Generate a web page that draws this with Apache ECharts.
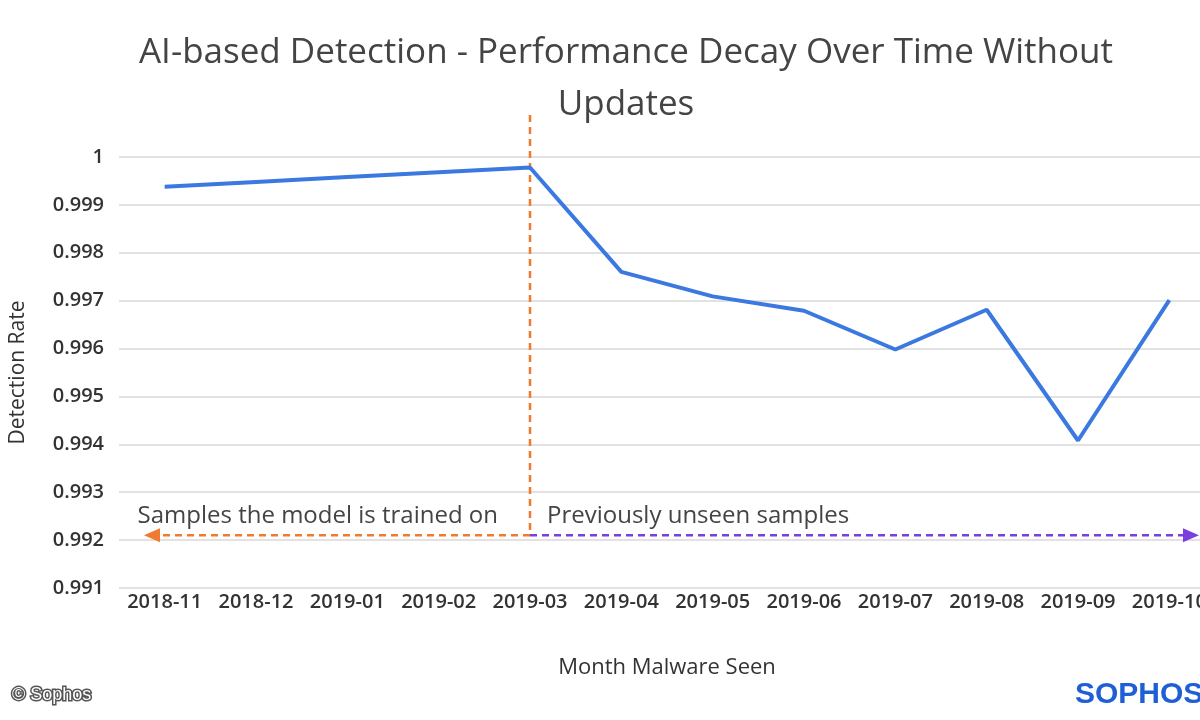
<!DOCTYPE html>
<html><head><meta charset="utf-8">
<script src="https://cdn.jsdelivr.net/npm/echarts@6/dist/echarts.min.js"></script>
<style>html,body{margin:0;padding:0;background:#fff;overflow:hidden;width:1200px;height:720px;}#c{width:1220px;height:720px;}</style>
</head><body><div id="c"></div>
<script>
const months = ['2018-11','2018-12','2019-01','2019-02','2019-03','2019-04','2019-05','2019-06','2019-07','2019-08','2019-09','2019-10'];
const detectionRate = [0.99938,0.99948,0.99958,0.99968,0.99978,0.9976,0.99709,0.99679,0.99598,0.99681,0.99408,0.99701];
const yTicks = [0.991,0.992,0.993,0.994,0.995,0.996,0.997,0.998,0.999,1];
const splitMonth = '2019-03';
const arrowLevel = 0.9921;
const leftLabel = 'Samples the model is trained on';
const rightLabel = 'Previously unseen samples';
const font = 'Open Sans, Lato, sans-serif';
const chart = echarts.init(document.getElementById('c'));
chart.setOption({
  animation:false,
  title:{text:'AI-based Detection - Performance Decay Over Time Without\nUpdates',left:621,top:22,textAlign:'center',
    textStyle:{fontFamily:font,fontSize:35,fontWeight:'normal',color:'#444',lineHeight:52}},
  grid:{left:112,right:5,top:157,bottom:132},
  xAxis:{type:'category',data:months,boundaryGap:true,name:'Month Malware Seen',nameLocation:'middle',nameGap:69,
    nameTextStyle:{fontFamily:font,fontSize:22,color:'#333'},
    axisLine:{show:false},axisTick:{show:false},
    axisLabel:{fontFamily:font,fontSize:20,fontWeight:600,color:'#333',margin:4,interval:0}},
  yAxis:{type:'value',min:0.991,max:1,interval:0.001,name:'Detection Rate',nameLocation:'middle',nameGap:90,
    nameTextStyle:{fontFamily:font,fontSize:21,color:'#333'},
    axisLabel:{fontFamily:font,fontSize:20,fontWeight:600,color:'#333',margin:15,formatter:v=>yTicks.find(t=>Math.abs(t-v)<1e-7)!==undefined?String(+v.toFixed(3)):''},
    splitLine:{lineStyle:{color:'#d9d9d9',width:1.5}}},
  series:[{type:'line',data:detectionRate,symbol:'none',lineStyle:{color:'#3b78e0',width:4}}]
});
const pTop = chart.convertToPixel({xAxisIndex:0,yAxisIndex:0},[splitMonth,1]);
const pArr = chart.convertToPixel({xAxisIndex:0,yAxisIndex:0},[splitMonth,arrowLevel]);
const x0 = pTop[0], ya = pArr[1];
chart.setOption({graphic:[
  {type:'line',shape:{x1:x0,y1:115,x2:x0,y2:ya},style:{stroke:'#f07a2e',lineWidth:2.5,lineDash:[7,5]}},
  {type:'line',shape:{x1:x0,y1:ya,x2:158,y2:ya},style:{stroke:'#f07a2e',lineWidth:2.5,lineDash:[7,5]}},
  {type:'polygon',shape:{points:[[144,ya],[160,ya-7],[160,ya+7]]},style:{fill:'#f07a2e'}},
  {type:'line',shape:{x1:x0,y1:ya,x2:1186,y2:ya},style:{stroke:'#7b3fe0',lineWidth:2.5,lineDash:[7,5]}},
  {type:'polygon',shape:{points:[[1199,ya],[1183,ya-7],[1183,ya+7]]},style:{fill:'#7b3fe0'}},
  {type:'text',x:x0-32,y:ya-7,style:{text:leftLabel,align:'right',verticalAlign:'bottom',font:'24px '+font,fill:'#444'}},
  {type:'text',x:x0+17,y:ya-7,style:{text:rightLabel,align:'left',verticalAlign:'bottom',font:'24px '+font,fill:'#444'}},
  {type:'text',x:12,y:686,style:{text:'© Sophos',font:'18px Liberation Sans, Arial',fill:'#fff',stroke:'#555',lineWidth:3}},
  {type:'text',x:1075,y:680,style:{text:'SOPHOS',font:'bold 30px Liberation Sans, Arial',fill:'#1f5fd6'}}
]});
</script></body></html>
